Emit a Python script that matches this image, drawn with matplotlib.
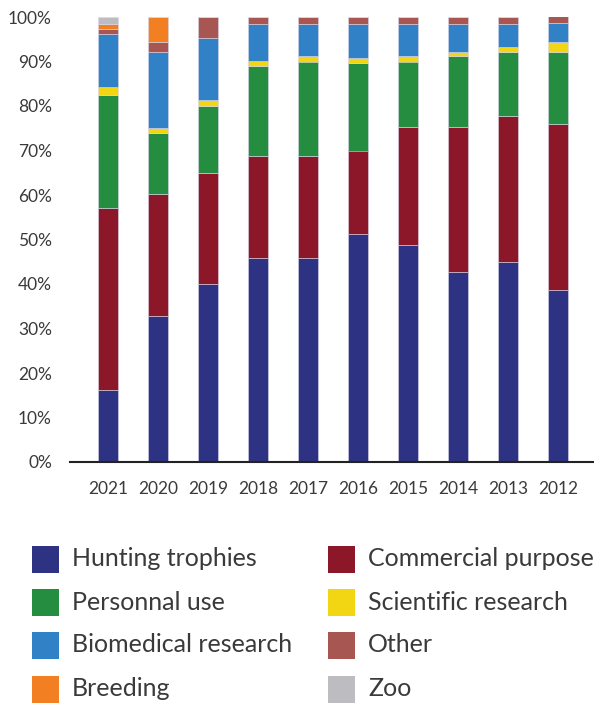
import matplotlib
matplotlib.use("Agg")
import matplotlib.pyplot as plt
from matplotlib.patches import Rectangle

plt.rcParams['font.family'] = ['Lato', 'DejaVu Sans']

years = ["2021", "2020", "2019", "2018", "2017", "2016", "2015", "2014", "2013", "2012"]

hunting_trophies    = [16.2, 32.9, 40.0, 45.8, 45.8, 51.2, 48.8, 42.8, 44.9, 38.6]
commercial_purpose  = [40.9, 27.3, 25.0, 23.0, 23.0, 18.8, 26.5, 32.5, 32.9, 37.4]
personnal_use       = [25.4, 13.8, 15.0, 20.3, 21.2, 19.6, 14.7, 15.9, 14.4, 16.2]
scientific_research = [1.7, 1.1, 1.3, 1.0, 1.3, 1.1, 1.2, 1.0, 1.1, 2.2]
biomedical_research = [12.0, 17.1, 13.9, 8.3, 7.1, 7.7, 7.2, 6.2, 5.1, 4.2]
other               = [1.0, 2.1, 4.8, 1.6, 1.6, 1.6, 1.6, 1.6, 1.6, 1.6]
breeding            = [1.2, 5.7, 0, 0, 0, 0, 0, 0, 0, 0]
zoo                 = [1.6, 0, 0, 0, 0, 0, 0, 0, 0, 0]

# Stacking order, bottom to top
series = [
    ("Hunting trophies", hunting_trophies, "#2d3282"),
    ("Commercial purpose", commercial_purpose, "#8c1729"),
    ("Personnal use", personnal_use, "#248d40"),
    ("Scientific research", scientific_research, "#f3d613"),
    ("Biomedical research", biomedical_research, "#3081c6"),
    ("Other", other, "#a75652"),
    ("Breeding", breeding, "#f27f22"),
    ("Zoo", zoo, "#bdbdc1"),
]

fig = plt.figure(figsize=(5.94, 7.04), dpi=100)
ax = fig.add_axes([70 / 594, (704 - 462) / 704, 1 - 70 / 594, 445 / 704])

x = list(range(len(years)))
bottom = [0.0] * len(years)
for name, vals, color in series:
    ax.bar(x, vals, width=0.4, bottom=bottom, color=color,
           edgecolor="#d9d6ea", linewidth=0.4)
    bottom = [b + v for b, v in zip(bottom, vals)]

ax.set_xlim(-0.76, 9.72)
ax.set_ylim(0, 100)
ax.set_yticks(range(0, 101, 10))
ax.set_yticklabels([f"{v}%" for v in range(0, 101, 10)])
ax.set_xticks(x)
ax.set_xticklabels(years)
ax.tick_params(axis="both", length=0, labelsize=12.5, colors="#3a3a3a")
ax.tick_params(axis="x", pad=14)
ax.tick_params(axis="y", pad=13)
for side in ("top", "right", "left"):
    ax.spines[side].set_visible(False)
ax.spines["bottom"].set_linewidth(1.5)
ax.spines["bottom"].set_color("#222222")

# Two-column legend below the plot
order = [0, 2, 4, 6, 1, 3, 5, 7]
col_x = [32, 328]
row_y = [559, 602, 645, 689]
sq = 27
for k, idx in enumerate(order):
    name, _, color = series[idx]
    col, row = divmod(k, 4)
    x0 = col_x[col]
    yc = row_y[row]
    fig.add_artist(Rectangle((x0 / 594, (704 - yc - sq / 2) / 704), sq / 594, sq / 704,
                             transform=fig.transFigure, facecolor=color, edgecolor="none"))
    fig.text((x0 + 40) / 594, (704 - yc) / 704, name, fontsize=18,
             color="#3a3a3a", va="center", ha="left")

fig.savefig("out.png", dpi=100)
